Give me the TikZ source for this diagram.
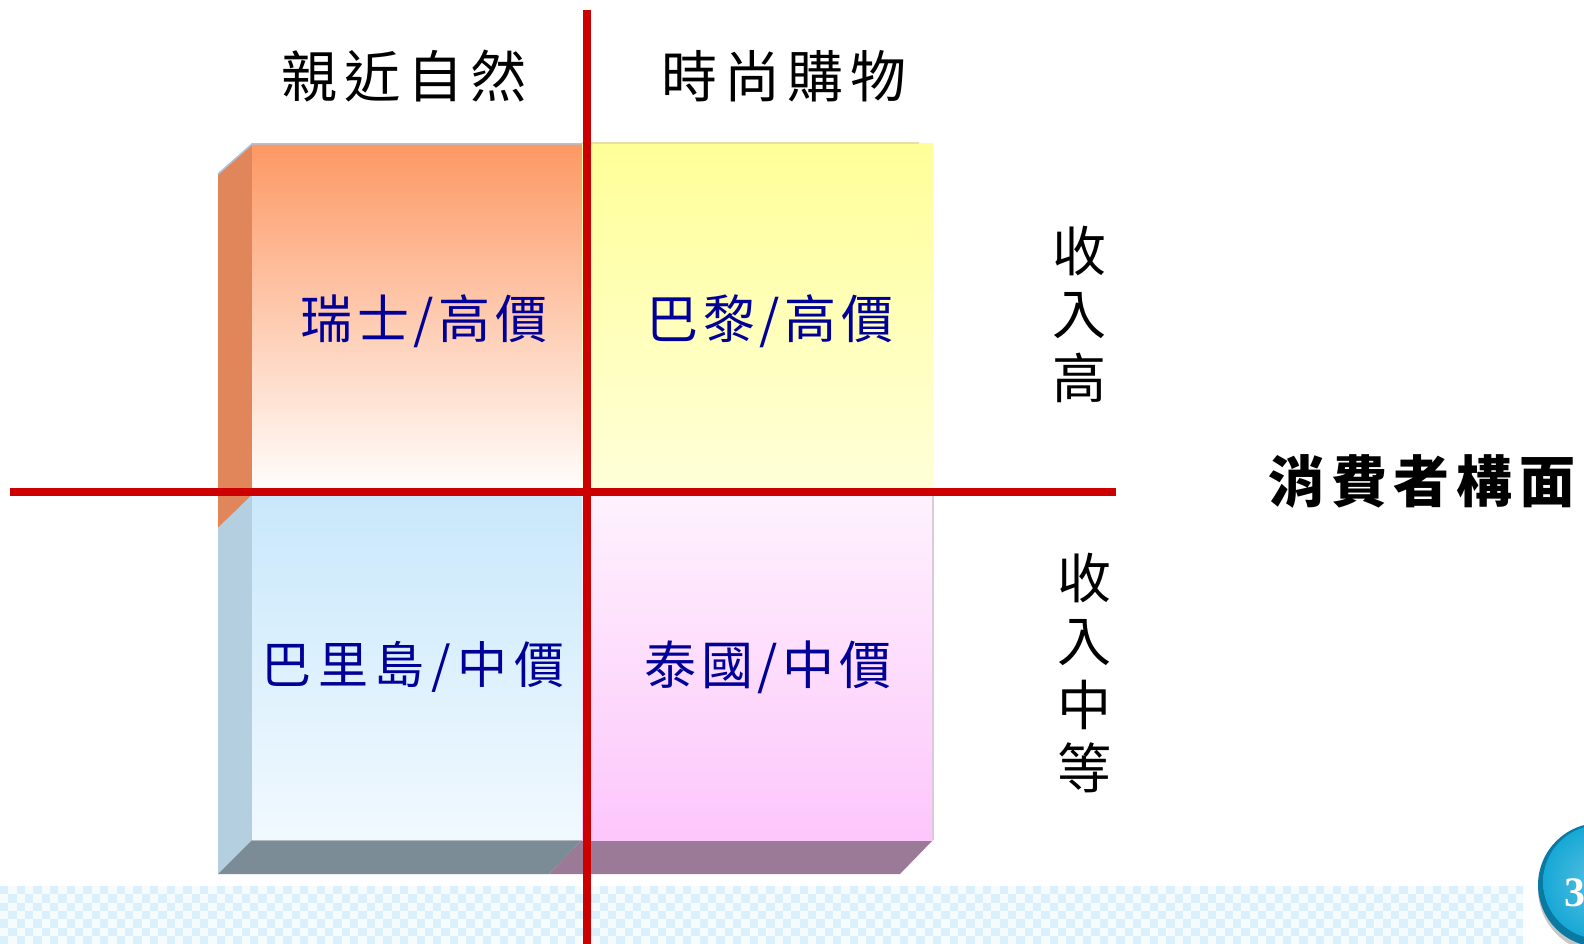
\documentclass[tikz,border=0pt]{standalone}
\usepackage{fontspec}
\newfontfamily\cjk{Noto Sans CJK TC}
\newfontfamily\numfont{Liberation Serif}
\definecolor{redAxis}{HTML}{CC0000}
\definecolor{txtBlue}{HTML}{000099}
\definecolor{tlTop}{HTML}{FD9864}
\definecolor{tlMid}{HTML}{FCC8B2}
\definecolor{tlSide}{HTML}{E0865A}
\definecolor{tlEdge}{HTML}{A9C6DE}
\definecolor{trTop}{HTML}{FFFF99}
\definecolor{trBot}{HTML}{FFFFDA}
\definecolor{trEdge}{HTML}{E6E0A8}
\definecolor{blTop}{HTML}{C9E8FB}
\definecolor{blBot}{HTML}{F1F9FF}
\definecolor{blSide}{HTML}{B3CFE0}
\definecolor{blBottom}{HTML}{7B8C97}
\definecolor{brTop}{HTML}{FEF2FD}
\definecolor{brBot}{HTML}{FDC6FC}
\definecolor{brBottom}{HTML}{9A7A96}
\definecolor{brEdge}{HTML}{D9CBD9}
\definecolor{checkA}{HTML}{DAF0FC}
\definecolor{checkB}{HTML}{F6FBFE}
\definecolor{badge}{HTML}{17A8D6}
\definecolor{badgeDark}{HTML}{0B7AA3}
\tikzset{
  axis/.style={draw=redAxis, line width=8.5pt},
  title/.style={font=\cjk\fontsize{56}{60}\selectfont\addfontfeatures{LetterSpace=13}, text=black, inner sep=0pt},
  cell/.style={font=\cjk\fontsize{52}{56}\selectfont\addfontfeatures{LetterSpace=9}, text=txtBlue, inner sep=0pt},
  vlabel/.style={font=\cjk\fontsize{54}{63.5}\selectfont, text=black, align=center, inner sep=0pt},
  dimlabel/.style={font=\cjk\bfseries\fontsize{56}{60}\selectfont\addfontfeatures{LetterSpace=12}, text=black, inner sep=0pt},
}
\begin{document}
\begin{tikzpicture}[x=1pt,y=-1pt]
\useasboundingbox (0,0) rectangle (1584,944);
\clip (0,0) rectangle (1584,944);
\fill[white] (0,0) rectangle (1584,944);
% checkered band
\begin{scope}
\clip (0,886) rectangle (1523,944);
\fill[checkB] (0,886) rectangle (1523,944);
\foreach \i in {0,2,...,182}{
  \foreach \j in {0,2,4,6}{
    \fill[checkA] (\i*8.33, 886+\j*8.33) rectangle ++(8.33,8.33);
    \fill[checkA] (\i*8.33+8.33, 886+\j*8.33+8.33) rectangle ++(8.33,8.33);
  }
}
\end{scope}
% side faces
\fill[tlSide] (218,174) -- (252,144) -- (252,495) -- (218,528) -- cycle;
\fill[blSide] (218,528) -- (252,495) -- (252,840) -- (218,874) -- cycle;
\fill[blBottom] (218,874) -- (252,840) -- (582,840) -- (549,874) -- cycle;
\fill[brBottom] (549,874) -- (582,840) -- (933,840) -- (900,874) -- cycle;
% front faces
\shade[top color=tlTop, middle color=tlMid, bottom color=white] (252,144) rectangle (582,495);
\shade[top color=trTop, bottom color=trBot] (582,144) rectangle (933,495);
\shade[top color=blTop, bottom color=blBot] (252,495) rectangle (582,840);
\shade[top color=brTop, bottom color=brBot] (582,495) rectangle (933,840);
\draw[tlEdge, line width=1.5pt] (218,174) -- (252,144) -- (582,144);
\draw[trEdge, line width=1.5pt] (582,143) -- (919,143);
\draw[brEdge, line width=1.5pt] (933,495) -- (933,840);
\draw[blBottom!60!white, line width=1pt] (252,840) -- (582,840);
% axes
\coordinate (vtop) at (587,10);
\coordinate (vbot) at (587,944);
\coordinate (hleft) at (10,492);
\coordinate (hright) at (1116,492);
\draw[axis] (vtop) -- (vbot);
\draw[axis] (hleft) -- (hright);
% titles
\node[title] (nature) at (404,76) {親近自然};
\node[title] (shop) at (784,76) {時尚購物};
% cells
\node[cell] (swiss) at (424,321) {瑞士/高價};
\node[cell] (paris) at (770,321) {巴黎/高價};
\node[cell, font=\cjk\fontsize{50}{56}\selectfont\addfontfeatures{LetterSpace=13}] (bali) at (413,667) {巴里島/中價};
\node[cell] (thai) at (768,667) {泰國/中價};
% income labels
\node[vlabel] (inchigh) at (1079,314) {收\\入\\高};
\node[vlabel] (incmid) at (1084,673) {收\\入\\中\\等};
\node[dimlabel] (consumer) at (1422,481) {消費者構面};
% page badge
\fill[gray!45] (1602,889) circle (64);
\fill[badgeDark] (1600,885) circle (62);
\shade[inner color=badge!70!white, outer color=badge] (1600,882) circle (57);
\node[font=\numfont\bfseries\fontsize{42}{44}\selectfont, text=white, anchor=west, inner sep=0pt] (pagenum) at (1564,893) {3};
\end{tikzpicture}
\end{document}
